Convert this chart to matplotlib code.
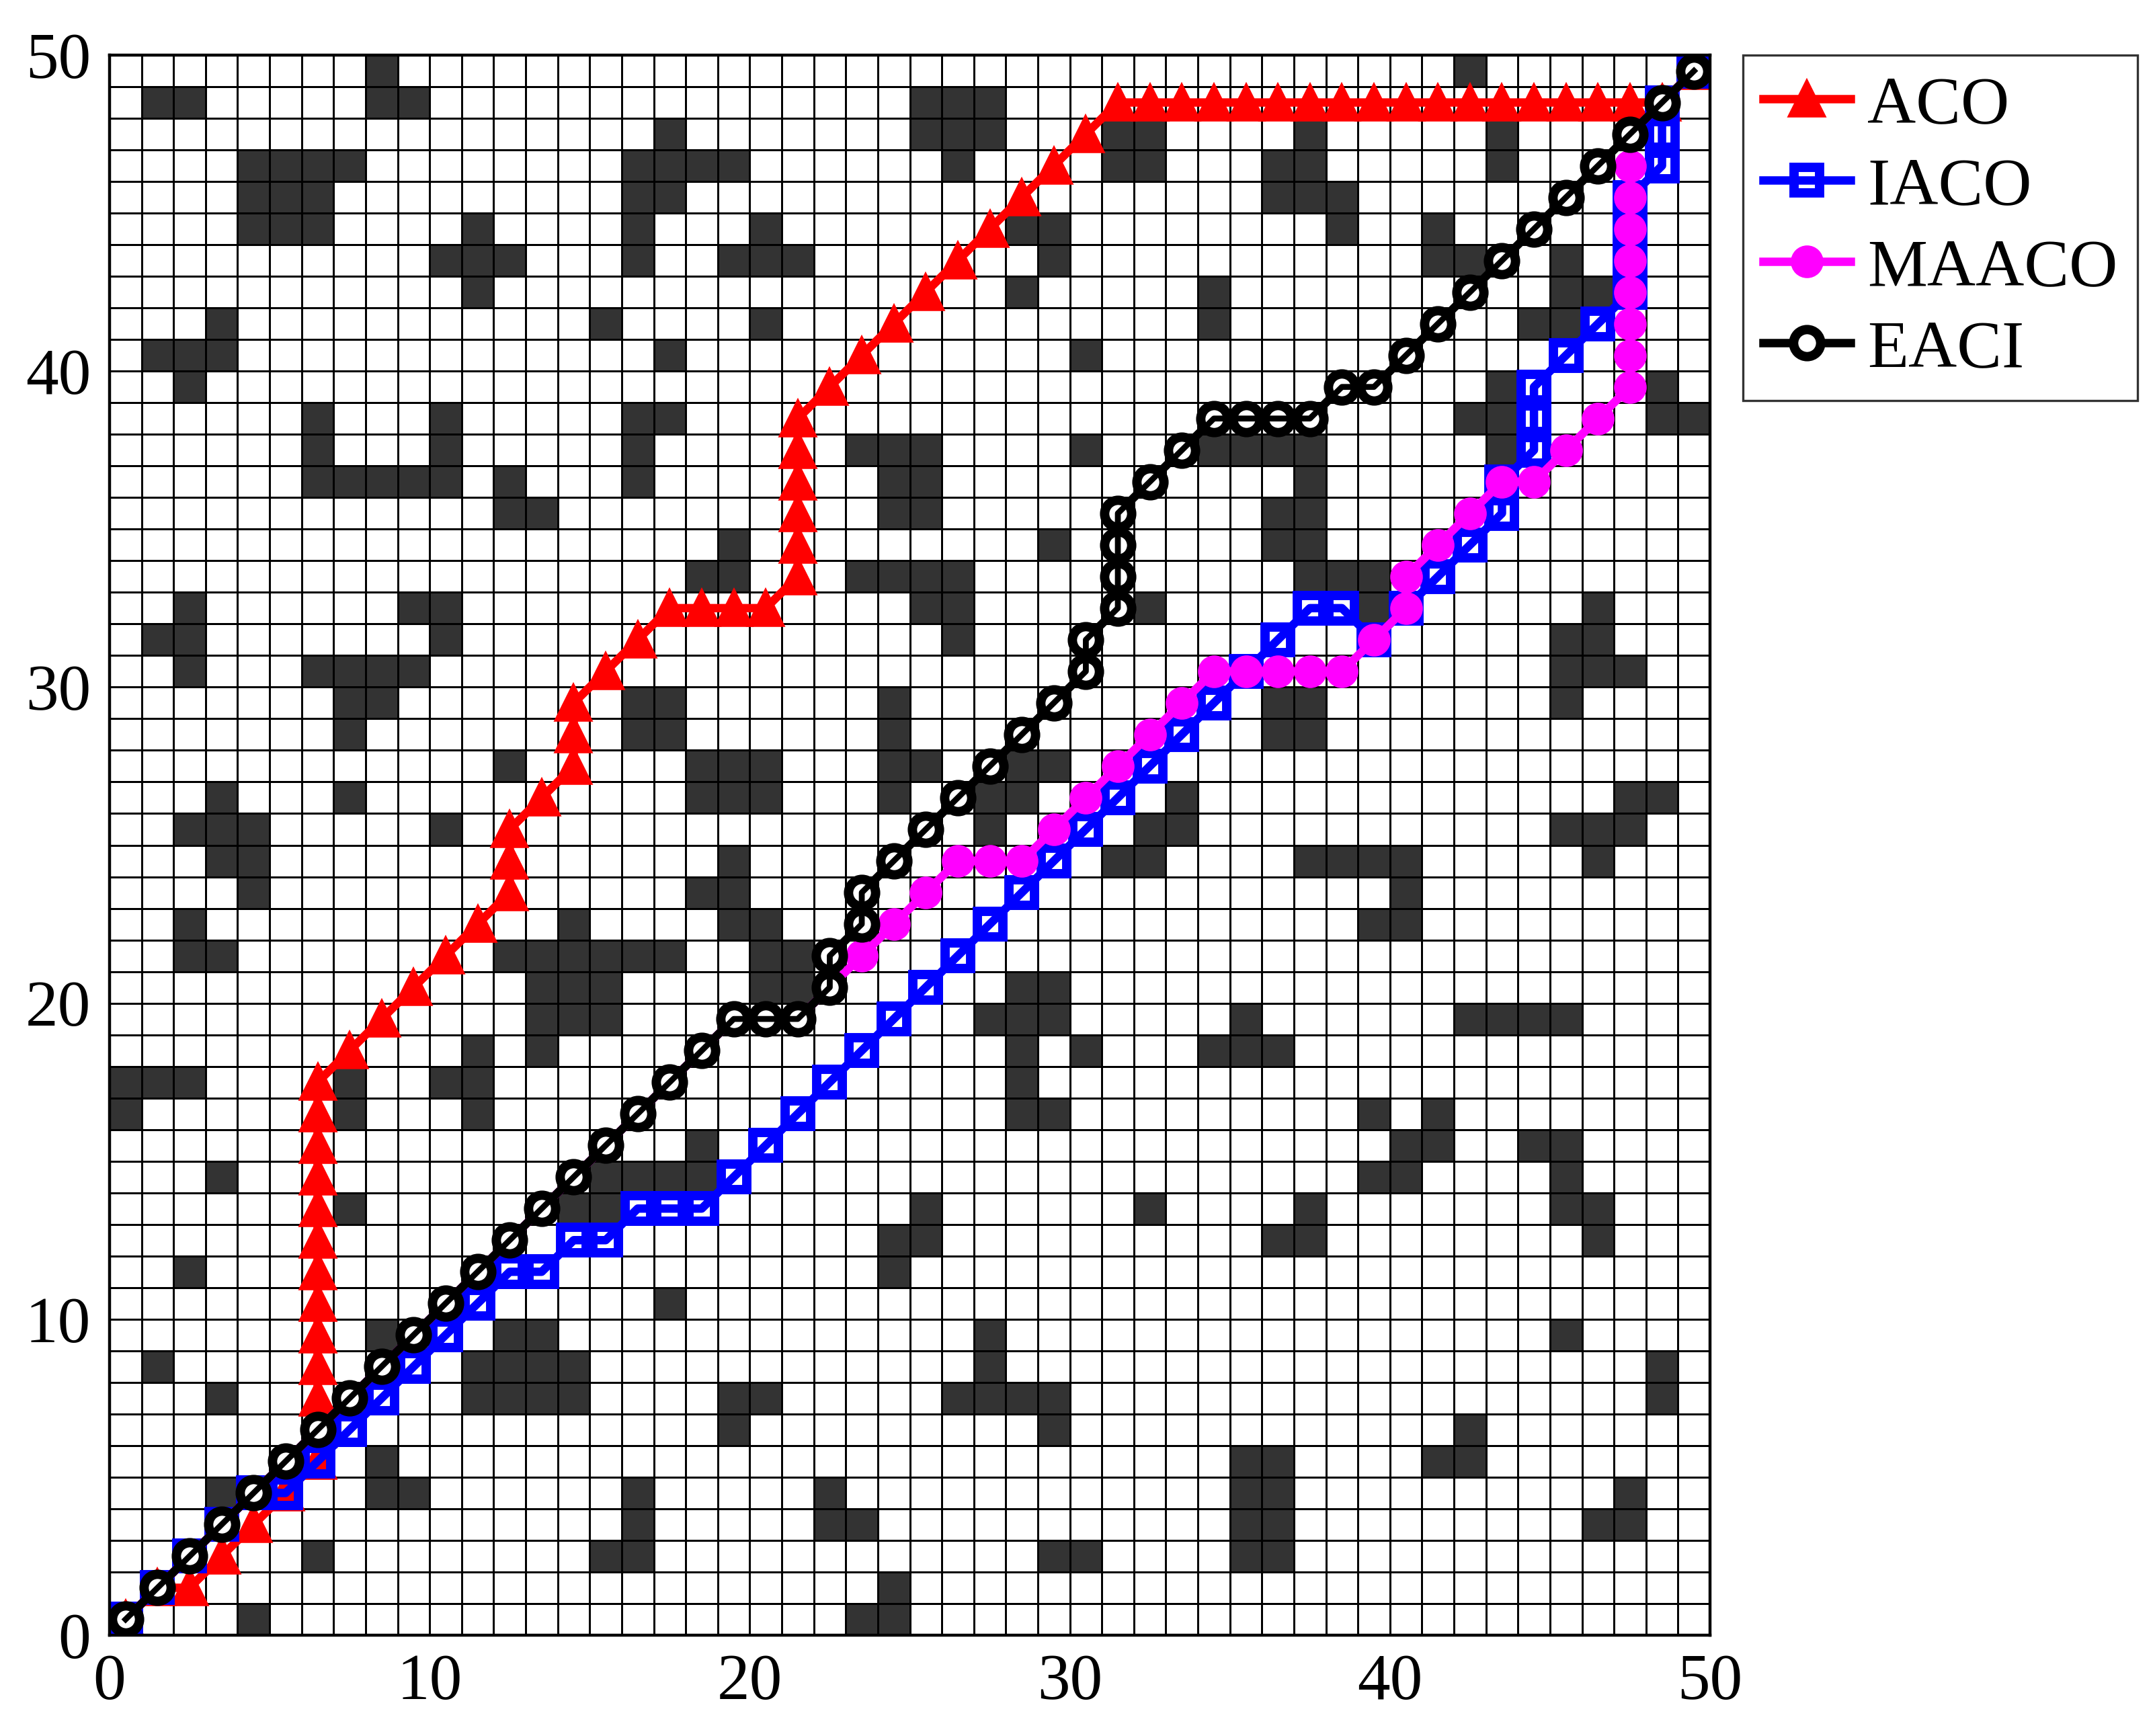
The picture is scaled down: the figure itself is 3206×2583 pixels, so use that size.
import numpy as np
import matplotlib
matplotlib.use("Agg")
import matplotlib.pyplot as plt
from matplotlib.colors import ListedColormap

# ---------------- data ----------------
# obstacle columns for each grid row (row index 0 .. 49, bottom to top)
obstacle_cols_by_row = [
    [4, 23, 24],                                            # 0
    [24],                                                   # 1
    [6, 15, 16, 29, 30, 35, 36],                            # 2
    [16, 22, 23, 35, 36, 46, 47],                           # 3
    [3, 8, 9, 16, 22, 35, 36, 47],                          # 4
    [8, 35, 36, 41, 42],                                    # 5
    [19, 29, 42],                                           # 6
    [3, 11, 12, 13, 14, 19, 20, 26, 27, 28, 29, 48],        # 7
    [1, 11, 12, 13, 14, 27, 48],                            # 8
    [8, 12, 13, 27, 45],                                    # 9
    [17],                                                   # 10
    [2, 24],                                                # 11
    [24, 25, 36, 37, 46],                                   # 12
    [7, 14, 15, 25, 32, 37, 45, 46],                        # 13
    [3, 15, 16, 17, 18, 39, 40, 45],                        # 14
    [18, 40, 41, 44, 45],                                   # 15
    [0, 7, 11, 28, 29, 39, 41],                             # 16
    [0, 1, 2, 7, 10, 11, 28],                               # 17
    [11, 13, 28, 30, 34, 35, 36],                           # 18
    [13, 14, 15, 27, 28, 29, 35, 42, 43, 44, 45],           # 19
    [13, 14, 15, 20, 21, 28, 29],                           # 20
    [2, 3, 12, 13, 14, 15, 16, 17, 20, 21],                 # 21
    [2, 14, 19, 20, 39, 40],                                # 22
    [4, 18, 19, 40],                                        # 23
    [3, 4, 19, 31, 32, 37, 38, 39, 40, 46],                 # 24
    [2, 3, 4, 10, 27, 32, 33, 45, 46, 47],                  # 25
    [3, 7, 18, 19, 20, 24, 27, 28, 33, 47, 48],             # 26
    [12, 18, 19, 20, 24, 25, 28, 29],                       # 27
    [7, 16, 17, 24, 36, 37],                                # 28
    [7, 8, 16, 17, 24, 36, 37, 45],                         # 29
    [2, 6, 7, 8, 9, 45, 46, 47],                            # 30
    [1, 2, 10, 26, 45, 46],                                 # 31
    [2, 9, 10, 25, 26, 32, 39, 46],                         # 32
    [18, 19, 23, 24, 25, 26, 37, 38, 39],                   # 33
    [19, 29, 36, 37],                                       # 34
    [12, 13, 24, 25, 36, 37],                               # 35
    [6, 7, 8, 9, 10, 12, 16, 24, 25, 37],                   # 36
    [6, 10, 16, 23, 24, 25, 30, 34, 35, 36, 37, 43],        # 37
    [6, 10, 16, 17, 42, 43, 48, 49],                        # 38
    [2, 43, 48],                                            # 39
    [1, 2, 3, 17, 30],                                      # 40
    [3, 15, 20, 34, 44, 45],                                # 41
    [11, 28, 34, 45, 46],                                   # 42
    [10, 11, 12, 16, 19, 20, 21, 29, 41, 42, 45],           # 43
    [4, 5, 6, 11, 16, 20, 28, 29, 38, 41],                  # 44
    [4, 5, 6, 16, 17, 36, 37, 38],                          # 45
    [4, 5, 6, 7, 16, 17, 18, 19, 26, 31, 32, 36, 37, 43],   # 46
    [17, 25, 26, 27, 31, 32, 37, 43],                       # 47
    [1, 2, 8, 9, 25, 26, 27],                               # 48
    [8, 42],                                                # 49
]

# paths as grid cell indices (column, row)
aco_col = [0, 1, 2, 3, 4, 5, 6, 6, 6, 6, 6, 6, 6, 6, 6, 6, 6, 6, 6, 7, 8, 9, 10, 11,
           12, 12, 12, 13, 14, 14, 14, 15, 16, 17, 18, 19, 20, 21, 21, 21, 21, 21, 21,
           22, 23, 24, 25, 26, 27, 28, 29, 30, 31, 32, 33, 34, 35, 36, 37, 38, 39, 40,
           41, 42, 43, 44, 45, 46, 47, 48, 49]
aco_row = [0, 1, 1, 2, 3, 4, 5, 6, 7, 8, 9, 10, 11, 12, 13, 14, 15, 16, 17, 18, 19, 20, 21, 22,
           23, 24, 25, 26, 27, 28, 29, 30, 31, 32, 32, 32, 32, 33, 34, 35, 36, 37, 38,
           39, 40, 41, 42, 43, 44, 45, 46, 47, 48, 48, 48, 48, 48, 48, 48, 48, 48, 48,
           48, 48, 48, 48, 48, 48, 48, 48, 49]

iaco_col = [0, 1, 2, 3, 4, 5, 6, 7, 8, 9, 10, 11, 12, 13, 14, 15, 16, 17, 18, 19, 20, 21,
            22, 23, 24, 25, 26, 27, 28, 29, 30, 31, 32, 33, 34, 35, 36, 37, 38, 39, 40,
            41, 42, 43, 43, 44, 44, 44, 45, 46, 47, 47, 47, 47, 48, 48, 48, 49]
iaco_row = [0, 1, 2, 3, 4, 4, 5, 6, 7, 8, 9, 10, 11, 11, 12, 12, 13, 13, 13, 14, 15, 16,
            17, 18, 19, 20, 21, 22, 23, 24, 25, 26, 27, 28, 29, 30, 31, 32, 32, 31, 32,
            33, 34, 35, 36, 37, 38, 39, 40, 41, 42, 43, 44, 45, 46, 47, 48, 49]

maaco_col = [0, 1, 2, 3, 4, 5, 6, 7, 8, 9, 10, 11, 12, 13, 14, 15, 16, 17, 18, 19, 20, 21,
             22, 23, 24, 25, 26, 27, 28, 29, 30, 31, 32, 33, 34, 35, 36, 37, 38, 39, 40,
             40, 41, 42, 43, 44, 45, 46, 47, 47, 47, 47, 47, 47, 47, 47, 47, 48, 49]
maaco_row = [0, 1, 2, 3, 4, 5, 6, 7, 8, 9, 10, 11, 12, 13, 14, 15, 16, 17, 18, 19, 19, 19,
             20, 21, 22, 23, 24, 24, 24, 25, 26, 27, 28, 29, 30, 30, 30, 30, 30, 31, 32,
             33, 34, 35, 36, 36, 37, 38, 39, 40, 41, 42, 43, 44, 45, 46, 47, 48, 49]

eaci_col = [0, 1, 2, 3, 4, 5, 6, 7, 8, 9, 10, 11, 12, 13, 14, 15, 16, 17, 18, 19, 20, 21,
            22, 22, 23, 23, 24, 25, 26, 27, 28, 29, 30, 30, 31, 31, 31, 31, 32, 33, 34,
            35, 36, 37, 38, 39, 40, 41, 42, 43, 44, 45, 46, 47, 48, 49]
eaci_row = [0, 1, 2, 3, 4, 5, 6, 7, 8, 9, 10, 11, 12, 13, 14, 15, 16, 17, 18, 19, 19, 19,
            20, 21, 22, 23, 24, 25, 26, 27, 28, 29, 30, 31, 32, 33, 34, 35, 36, 37, 38,
            38, 38, 38, 39, 39, 40, 41, 42, 43, 44, 45, 46, 47, 48, 49]

series_labels = ["ACO", "IACO", "MAACO", "EACI"]
axis_ticks = [0, 10, 20, 30, 40, 50]

# ---------------- figure ----------------
plt.rcParams["font.family"] = ["Liberation Serif", "DejaVu Serif"]
W, H, DPI = 3206, 2583, 200
fig = plt.figure(figsize=(W / DPI, H / DPI), dpi=DPI)
ax = fig.add_axes([163 / W, (H - 2433) / H, 2381 / W, 2351 / H])

grid = np.zeros((50, 50))
for r, cols in enumerate(obstacle_cols_by_row):
    for c in cols:
        grid[r, c] = 1

ax.pcolormesh(np.arange(51), np.arange(51), grid,
              cmap=ListedColormap(["white", "#333333"]), vmin=0, vmax=1,
              edgecolors="black", linewidth=1.0, zorder=1)

off = 0.5
LW = 4.5
ax.plot(np.array(aco_col) + off, np.array(aco_row) + off, color="#ff0000", lw=LW,
        marker="^", ms=18, mfc="#ff0000", mec="#ff0000", mew=2, zorder=3,
        label=series_labels[0])
ax.plot(np.array(iaco_col) + off, np.array(iaco_row) + off, color="#0000ff", lw=LW,
        marker="s", ms=14, mfc="none", mec="#0000ff", mew=5, zorder=4,
        label=series_labels[1])
ax.plot(np.array(maaco_col) + off, np.array(maaco_row) + off, color="#ff00ff", lw=LW,
        marker="o", ms=15.5, mfc="#ff00ff", mec="#ff00ff", mew=2, zorder=5,
        label=series_labels[2])
ax.plot(np.array(eaci_col) + off, np.array(eaci_row) + off, color="black", lw=LW,
        marker="o", ms=14.5, mfc="white", mec="black", mew=5, zorder=6,
        label=series_labels[3])
ax.plot(np.array(eaci_col) + off, np.array(eaci_row) + off, color="black", lw=LW * 0.7,
        zorder=7)

ax.set_xlim(0, 50)
ax.set_ylim(0, 50)
ax.set_xticks(axis_ticks)
ax.set_yticks(axis_ticks)
ax.tick_params(axis="both", direction="in", length=0, labelsize=35, pad=10)
for s in ax.spines.values():
    s.set_linewidth(1.6)
    s.set_zorder(10)

handles, labels = ax.get_legend_handles_labels()
leg = fig.legend(handles[:4], labels[:4], loc="upper left",
                 bbox_to_anchor=(2593 / W, 1 - 82 / H), bbox_transform=fig.transFigure,
                 borderaxespad=0, fontsize=36, frameon=True, fancybox=False,
                 edgecolor="black", handlelength=1.3, handletextpad=0.25,
                 labelspacing=0.3, borderpad=0.3, numpoints=1)
leg.get_frame().set_linewidth(1.2)

fig.savefig("out.png", dpi=DPI, facecolor="white")
